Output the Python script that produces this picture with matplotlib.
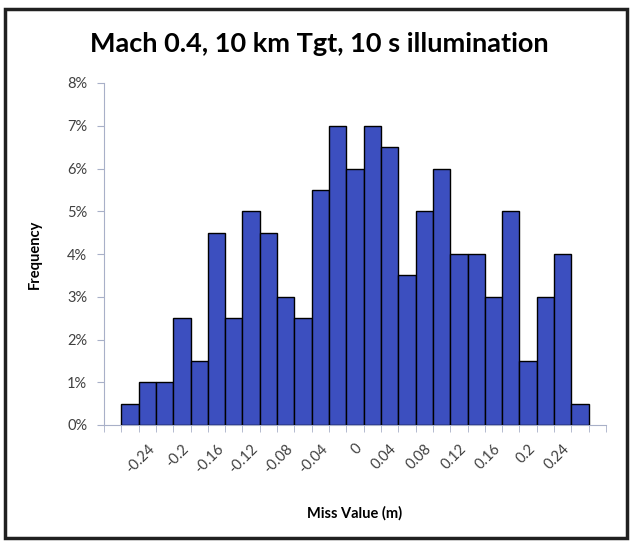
import numpy as np
import matplotlib.pyplot as plt
from matplotlib.patches import Rectangle
from matplotlib.ticker import FixedLocator, PercentFormatter

# bin centres (m) and share of runs in each bin (%)
bins = [-0.26, -0.24, -0.22, -0.20, -0.18, -0.16, -0.14, -0.12, -0.10,
        -0.08, -0.06, -0.04, -0.02, 0.00, 0.02, 0.04, 0.06, 0.08, 0.10,
        0.12, 0.14, 0.16, 0.18, 0.20, 0.22, 0.24, 0.26]
freq = [0.5, 1, 1, 2.5, 1.5, 4.5, 2.5, 5, 4.5, 3, 2.5, 5.5, 7, 6,
        7, 6.5, 3.5, 5, 6, 4, 4, 3, 5, 1.5, 3, 4, 0.5]
tick_vals = [-0.24, -0.2, -0.16, -0.12, -0.08, -0.04, 0,
             0.04, 0.08, 0.12, 0.16, 0.2, 0.24]
tick_text = ['-0.24', '-0.2', '-0.16', '-0.12', '-0.08', '-0.04', '0',
             '0.04', '0.08', '0.12', '0.16', '0.2', '0.24']

plt.rcParams['font.family'] = ['Lato', 'DejaVu Sans']

fig = plt.figure(figsize=(6.33, 5.44), dpi=100)
ax = fig.add_axes([104 / 633, 1 - 425 / 544, 502 / 633, 342 / 544])

ax.bar(bins, freq, width=0.02, color='#3c4fbf', edgecolor='black',
       linewidth=1.0, zorder=3)

ax.set_xlim(-0.29, 0.29)
ax.set_ylim(0, 8)
ax.yaxis.set_major_locator(FixedLocator(range(0, 9)))
ax.yaxis.set_major_formatter(PercentFormatter(decimals=0))
ax.set_xticks(tick_vals)
ax.set_xticklabels(tick_text, rotation=45, ha='right', va='top',
                   rotation_mode='anchor')
edges = np.round(np.arange(-0.29, 0.2901, 0.02), 3)
ax.xaxis.set_minor_locator(FixedLocator(edges))
ax.tick_params(axis='x', which='major', length=0, pad=12,
               labelsize=10.5, labelcolor='#404040')
ax.tick_params(axis='x', which='minor', length=5, color='#a8b0c8',
               direction='out')
ax.tick_params(axis='y', length=5, color='#a8b0c8', labelsize=10.5,
               labelcolor='#404040', pad=7)

for s in ['top', 'right']:
    ax.spines[s].set_visible(False)
for s in ['left', 'bottom']:
    ax.spines[s].set_color('#a8b0c8')

ax.set_xlabel('Miss Value (m)', fontsize=10.5, fontweight='bold', labelpad=22)
ax.set_ylabel('Frequency', fontsize=10.5, fontweight='bold', labelpad=18)
fig.text(0.505, 1 - 44 / 544, 'Mach 0.4, 10 km Tgt, 10 s illumination',
         ha='center', va='center', fontsize=19.5, fontweight='bold')

# outer frame of the scanned chart
fig.patches.append(Rectangle((5 / 633, 1 - 538 / 544), 622 / 633, 529 / 544,
                             transform=fig.transFigure, fill=False,
                             edgecolor='#202020', linewidth=2.5))

plt.savefig('out.png', dpi=100)
